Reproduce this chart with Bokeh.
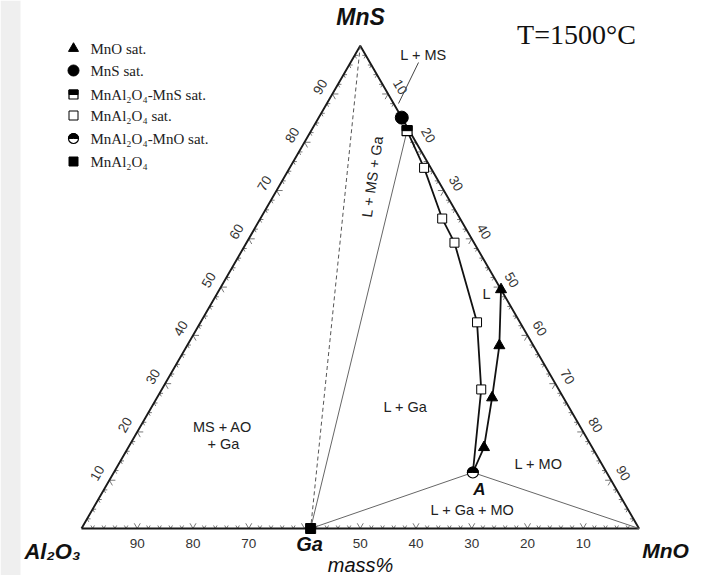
import math
from bokeh.plotting import figure
from bokeh.models import Range1d, BoxAnnotation
from bokeh.core.properties import value
from bokeh.embed import file_html
from bokeh.resources import INLINE

# ---------------- data (mass %) ----------------
# MnO saturation (filled triangles)
mno_sat_MnS = [49.5, 37.9, 27.1, 16.8]
mno_sat_MnO = [50.5, 56.0, 60.1, 63.8]
# MnS saturation (filled circle)
mns_sat_MnS = [85.1]
mns_sat_MnO = [14.9]
# MnAl2O4-MnS double saturation (half filled square)
ga_mns_MnS = [82.4]
ga_mns_MnO = [17.2]
# MnAl2O4 saturation (open squares)
ga_sat_MnS = [74.7, 64.2, 59.2, 42.7, 28.8]
ga_sat_MnO = [24.1, 32.6, 37.3, 49.6, 57.3]
# MnAl2O4-MnO double saturation, point A (half filled circle)
ga_mno_MnS = [11.6]
ga_mno_MnO = [64.4]
# MnAl2O4 compound (Ga)
ga_MnS = [0.0]
ga_MnO = [41.1]

tick_values = [10, 20, 30, 40, 50, 60, 70, 80, 90]
bottom_labels = ["90", "80", "70", "", "50", "40", "30", "20", "10"]  # Al2O3 %, 60 replaced by Ga

legend_labels = ["MnO sat.", "MnS sat.", "MnAl\u2082O\u2084-MnS sat.", "MnAl\u2082O\u2084 sat.",
                 "MnAl\u2082O\u2084-MnO sat.", "MnAl\u2082O\u2084"]

# ---------------- geometry ----------------
K = 5.575          # pixels per percent
OX, OY = 81, 528   # pixel of the Al2O3 corner
S3 = math.sqrt(3) / 2


def tern(mns, mno):
    xs = [o + s / 2 for s, o in zip(mns, mno)]
    ys = [s * S3 for s in mns]
    return xs, ys


def P(px, py):
    return (px - OX) / K, (OY - py) / K


p = figure(width=706, height=575, output_backend="svg", toolbar_location=None,
           x_range=Range1d(-OX / K, (706 - OX) / K), y_range=Range1d((OY - 575) / K, OY / K),
           min_border=0, x_axis_location=None, y_axis_location=None)
p.grid.visible = False
p.outline_line_color = None
p.background_fill_color = "white"
p.border_fill_color = "white"

p.add_layout(BoxAnnotation(left=0, right=20, left_units="screen", right_units="screen",
                           fill_color="#efefef", fill_alpha=1, line_color=None))

SANS = value("Liberation Sans")
SERIF = value("Liberation Serif")

# ---------------- ticks ----------------
x0s, y0s, x1s, y1s = [], [], [], []
lab_x, lab_y, lab_t, lab_a = [], [], [], []
c60, s60 = 0.5, S3
for v in range(2, 100, 2):
    L = (6 if v % 10 == 0 else 3.5) / K
    bx, by = tern([0], [v])
    for dx, dy in [(c60, s60), (-c60, s60)]:
        x0s.append(bx[0]); y0s.append(by[0]); x1s.append(bx[0] + dx * L); y1s.append(by[0] + dy * L)
    lx, ly = tern([v], [0])
    for dx, dy in [(1, 0), (c60, -s60)]:
        x0s.append(lx[0]); y0s.append(ly[0]); x1s.append(lx[0] + dx * L); y1s.append(ly[0] + dy * L)
    rx, ry = tern([100 - v], [v])
    for dx, dy in [(-1, 0), (-c60, -s60)]:
        x0s.append(rx[0]); y0s.append(ry[0]); x1s.append(rx[0] + dx * L); y1s.append(ry[0] + dy * L)
p.segment(x0=x0s, y0=y0s, x1=x1s, y1=y1s, line_color="#777777", line_width=1)

off = 14 / K
for i, v in enumerate(tick_values):
    lx, ly = tern([v], [0])
    lab_x.append(lx[0] - S3 * off); lab_y.append(ly[0] + 0.5 * off); lab_t.append(str(v)); lab_a.append(math.pi / 3)
    rx, ry = tern([100 - v], [v])
    lab_x.append(rx[0] + S3 * off); lab_y.append(ry[0] + 0.5 * off); lab_t.append(str(v)); lab_a.append(-math.pi / 3)
    if bottom_labels[i]:
        bx, by = tern([0], [100 - int(bottom_labels[i])])
        lab_x.append(bx[0]); lab_y.append(by[0] - 14.5 / K); lab_t.append(bottom_labels[i]); lab_a.append(0)
p.text(x=lab_x, y=lab_y, text=lab_t, angle=lab_a, text_font=SANS, text_font_size="13.5px",
       text_color="#333333", text_align="center", text_baseline="middle")

# ---------------- triangle edges ----------------
vx, vy = tern([0, 0, 100, 0], [0, 100, 0, 0])
p.line(vx, vy, line_color="#1a1a1a", line_width=1.9)

# ---------------- tie lines ----------------
gx, gy = tern(ga_MnS, ga_MnO)
ax_, ay_ = tern(ga_mno_MnS, ga_mno_MnO)
dx_, dy_ = tern(ga_mns_MnS, ga_mns_MnO)
tx, ty = tern([100], [0])
mx, my = tern([0], [100])
p.line([tx[0], gx[0]], [ty[0], gy[0]], line_color="#555555", line_width=1, line_dash="4 3")
p.line([gx[0], dx_[0]], [gy[0], dy_[0]], line_color="#666666", line_width=1)
p.line([gx[0], ax_[0], mx[0]], [gy[0], ay_[0], my[0]], line_color="#666666", line_width=1)

# ---------------- saturation curves ----------------
cx, cy = tern(ga_mns_MnS + ga_sat_MnS + ga_mno_MnS, ga_mns_MnO + ga_sat_MnO + ga_mno_MnO)
p.line(cx, cy, line_color="#111111", line_width=1.8, line_join="round")
cx2, cy2 = tern(ga_mno_MnS + mno_sat_MnS[::-1], ga_mno_MnO + mno_sat_MnO[::-1])
p.line(cx2, cy2, line_color="#111111", line_width=1.8, line_join="round")

# leader for L + MS
l0 = P(418, 62); l1 = P(398, 103)
p.line([l0[0], l1[0]], [l0[1], l1[1]], line_color="#444444", line_width=1)

# ---------------- markers ----------------
def half_square(xs, ys, size):
    p.scatter(xs, ys, marker="square", size=size, fill_color="white", line_color="black", line_width=1.2)
    p.rect([x for x in xs], [y + size / 4 / K for y in ys], width=size, height=size / 2,
           width_units="screen", height_units="screen", fill_color="black", line_color="black")


def half_circle(xs, ys, size):
    p.scatter(xs, ys, marker="circle", size=size, fill_color="white", line_color="black", line_width=1.2)
    p.wedge(xs, ys, radius=size / 2, radius_units="screen", start_angle=0, end_angle=math.pi,
            fill_color="black", line_color="black")


x, y = tern(mno_sat_MnS, mno_sat_MnO)
p.scatter(x, y, marker="triangle", size=11, color="black")
x, y = tern(ga_sat_MnS, ga_sat_MnO)
p.scatter(x, y, marker="square", size=9, fill_color="white", line_color="black", line_width=1)
x, y = tern(mns_sat_MnS, mns_sat_MnO)
p.scatter(x, y, marker="circle", size=13, color="black")
half_square(dx_, dy_, 10)
half_circle(ax_, ay_, 11)
p.scatter(gx, gy, marker="square", size=10, color="black")

# ---------------- legend ----------------
rows = [48, 70, 94, 115, 138, 161]
lx = [P(73, r)[0] for r in rows]
ly = [P(73, r)[1] for r in rows]
p.scatter([lx[0]], [ly[0]], marker="triangle", size=10, color="black")
p.scatter([lx[1]], [ly[1]], marker="circle", size=11, color="black")
half_square([lx[2]], [ly[2]], 9)
p.scatter([lx[3]], [ly[3]], marker="square", size=9, fill_color="white", line_color="black", line_width=1)
half_circle([lx[4]], [ly[4]], 10)
p.scatter([lx[5]], [ly[5]], marker="square", size=9, color="black")
p.text(x=[P(90, r)[0] for r in rows], y=[P(90, r)[1] for r in rows], text=legend_labels,
       text_font=SERIF, text_font_size="15px", text_color="#222222", text_align="left",
       text_baseline="middle")

# ---------------- labels ----------------
def label(px, py, t, size, font=SANS, style="normal", angle=0.0, color="#222222"):
    q = P(px, py)
    p.text(x=[q[0]], y=[q[1]], text=[t], angle=angle, text_font=font, text_font_size=size,
           text_font_style=style, text_color=color, text_align="center", text_baseline="middle")


label(360, 16, "MnS", "23px", style="bold italic", color="#111111")
label(665, 550, "MnO", "21px", style="bold italic", color="#111111")
label(52, 551, "Al\u2082O\u2083", "22px", style="bold italic", color="#111111")
label(309, 543, "Ga", "20px", style="bold italic", color="#111111")
label(360, 564, "mass%", "20px", style="italic", color="#111111")
label(479, 489, "A", "17px", style="bold italic", color="#111111")
label(576, 34, "T=1500\u00b0C", "28px", font=SERIF, color="#111111")

RS = "14.5px"
label(423, 54, "L + MS", RS)
label(372, 176, "L + MS + Ga", RS, angle=math.radians(82))
label(486, 293, "L", RS)
label(405, 406, "L + Ga", RS)
label(222, 426, "MS + AO", RS)
label(223, 443, "+ Ga", RS)
label(538, 463, "L + MO", RS)
label(472, 509, "L + Ga + MO", RS)

open("out.html", "w").write(file_html(p, INLINE))
